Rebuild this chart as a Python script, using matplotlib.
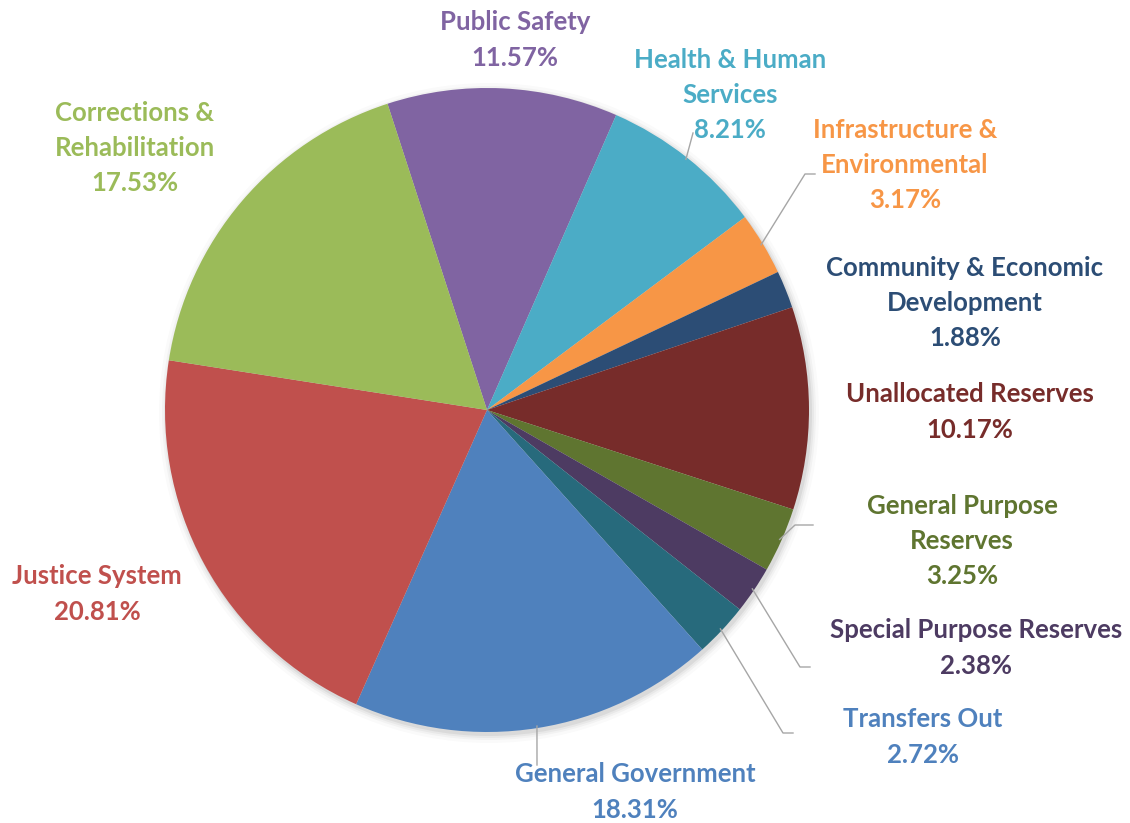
import numpy as np
import matplotlib.pyplot as plt
from matplotlib.patches import Circle

plt.rcParams['font.family'] = ['Lato', 'DejaVu Sans']

categories = ["Public Safety", "Health & Human\nServices", "Infrastructure &\nEnvironmental",
              "Community & Economic\nDevelopment", "Unallocated Reserves",
              "General Purpose\nReserves", "Special Purpose Reserves", "Transfers Out",
              "General Government", "Justice System", "Corrections &\nRehabilitation"]
shares = [11.57, 8.21, 3.17, 1.88, 10.17, 3.25, 2.38, 2.72, 18.31, 20.81, 17.53]
colors = ["#8064A2", "#4BACC6", "#F79646", "#2C4D75", "#772C2A", "#5F7530",
          "#4D3B62", "#276A7C", "#4F81BD", "#C0504D", "#9BBB59"]
label_colors = ["#8064A2", "#4BACC6", "#F79646", "#2C4D75", "#772C2A", "#5F7530",
                "#4D3B62", "#4F81BD", "#4F81BD", "#C0504D", "#9BBB59"]

# label block centres in pixel coords (x, y from top)
label_pos = [(515, 40), (730, 95), (905, 165), (965, 303), (970, 412), (962, 541),
             (976, 648), (923, 737), (635, 792), (97, 594), (135, 148)]
# leader lines: (elbow point, end point) in pixel coords, None if no line
leaders = [None, ((693, 133), (693, 133)), ((805, 174), (815, 174)), None, None,
           ((795, 525), (813, 525)), ((800, 667), (810, 667)), ((783, 733), (793, 733)),
           ((537, 765), (537, 765)), None, None]

W, H = 1130, 823
cx, cy, R = 487, 410, 322

fig = plt.figure(figsize=(W / 100, H / 100), dpi=100)
ax = fig.add_axes([0, 0, 1, 1])

# soft shadow behind the pie
for k, a in zip([8, 5, 3, 1], [0.02, 0.03, 0.04, 0.06]):
    ax.add_patch(Circle((cx + 2, H - cy - 3), R + k, color='black', alpha=a, lw=0, zorder=0))

wedges, _ = ax.pie(shares, colors=colors, startangle=108, counterclock=False,
                   center=(cx, H - cy), radius=R, frame=True,
                   wedgeprops=dict(linewidth=0))
ax.set_xlim(0, W)
ax.set_ylim(0, H)
ax.axis('off')

for i, (name, val) in enumerate(zip(categories, shares)):
    lx, ly = label_pos[i]
    ax.text(lx, H - ly, f"{name}\n{val:.2f}%", ha='center', va='center',
            multialignment='center', color=label_colors[i], fontsize=18.5,
            fontweight='bold', linespacing=1.57, zorder=5)
    if leaders[i] is not None:
        w = wedges[i]
        mid = np.deg2rad((w.theta1 + w.theta2) / 2)
        sx = cx + (R - 2) * np.cos(mid)
        sy = H - cy + (R - 2) * np.sin(mid)
        (ex, ey), (fx, fy) = leaders[i]
        ax.plot([sx, ex, fx], [sy, H - ey, H - fy], color='#A6A6A6', lw=1, zorder=4)

fig.savefig("out.png", dpi=100)
